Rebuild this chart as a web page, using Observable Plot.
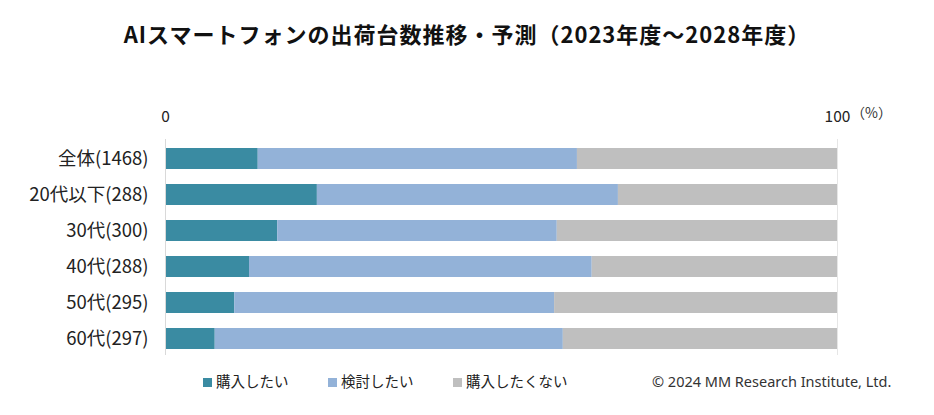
<!DOCTYPE html>
<html>
<head>
<meta charset="utf-8">
<script src="https://cdn.jsdelivr.net/npm/d3@7"></script>
<script src="https://cdn.jsdelivr.net/npm/@observablehq/plot@0.6"></script>
<style>
  body { margin: 0; background: #fff; font-family: "Noto Sans CJK JP", "Noto Sans", sans-serif; }
  #wrap { width: 934px; height: 415px; position: relative; overflow: hidden; }
  #title { height: 66px; line-height: 66px; text-align: center; font-size: 22px; font-weight: bold; color: #111; letter-spacing: 1px; }
  #legend { position: absolute; left: 0; top: 372px; width: 934px; height: 18px; font-size: 14.5px; color: #222; }
  .item { position: absolute; top: 0; line-height: 18px; white-space: nowrap; }
  .sw { display: inline-block; width: 9px; height: 9px; margin-right: 4px; vertical-align: 0px; }
  #copy { position: absolute; left: 652px; top: 0; line-height: 18px; font-size: 14.5px; color: #333; font-family: "Noto Sans", sans-serif; }
</style>
</head>
<body>
<div id="wrap">
  <div id="title">AIスマートフォンの出荷台数推移・予測（2023年度～2028年度）</div>
  <div id="chart"></div>
  <div id="legend"></div>
</div>
<script>
const categories = ["全体(1468)", "20代以下(288)", "30代(300)", "40代(288)", "50代(295)", "60代(297)"];
const seriesNames = ["購入したい", "検討したい", "購入したくない"];
const seriesColors = ["#3a8ba2", "#93b2d8", "#bfbfbf"];
const wantToBuy   = [13.8, 22.6, 16.7, 12.5, 10.3, 7.4];
const considering = [47.5, 44.8, 41.6, 51.0, 47.6, 51.8];
const notBuy      = [38.7, 32.6, 41.7, 36.5, 42.1, 40.8];
const xTicks = [0, 100];

const series = [wantToBuy, considering, notBuy];
const data = [];
categories.forEach((c, i) => {
  seriesNames.forEach((s, j) => {
    data.push({category: c, series: s, value: series[j][i]});
  });
});

const plot = Plot.plot({
  width: 934,
  height: 308,
  marginLeft: 165,
  marginRight: 97,
  marginTop: 64,
  marginBottom: 7,
  style: {fontFamily: "'Noto Sans CJK JP', 'Noto Sans', sans-serif", color: "#222", background: "#fff"},
  x: {domain: [0, 100], axis: null},
  y: {domain: categories, padding: 0.43, axis: null},
  color: {domain: seriesNames, range: seriesColors},
  marks: [
    Plot.ruleX([100], {stroke: "#e6e6e6", strokeWidth: 1, insetTop: 9, insetBottom: 12}),
    Plot.barX(data, Plot.stackX({x: "value", y: "category", fill: "series", order: seriesNames})),
    Plot.ruleX([0], {stroke: "#d9d9d9", strokeWidth: 1, insetTop: 9, insetBottom: 12}),
    Plot.axisX(xTicks, {anchor: "top", tickSize: 0, tickPadding: 9, fontSize: 15.5, tickFormat: d => String(d), color: "#222", label: null}),
    Plot.axisY({anchor: "left", tickSize: 0, tickPadding: 17, fontSize: 18.5, color: "#222", label: null}),
    Plot.text(["（%）"], {x: () => 100, frameAnchor: "top", dx: 34, dy: -22, fontSize: 14, fill: "#333"})
  ]
});
document.getElementById("chart").appendChild(plot);

const legend = document.getElementById("legend");
const lx = [203, 328, 453];
seriesNames.forEach((s, j) => {
  const d = document.createElement("div");
  d.className = "item";
  d.style.left = lx[j] + "px";
  d.innerHTML = `<span class="sw" style="background:${seriesColors[j]}"></span>${s}`;
  legend.appendChild(d);
});
const cp = document.createElement("div");
cp.id = "copy";
cp.textContent = "© 2024 MM Research Institute, Ltd.";
legend.appendChild(cp);
</script>
</body>
</html>
